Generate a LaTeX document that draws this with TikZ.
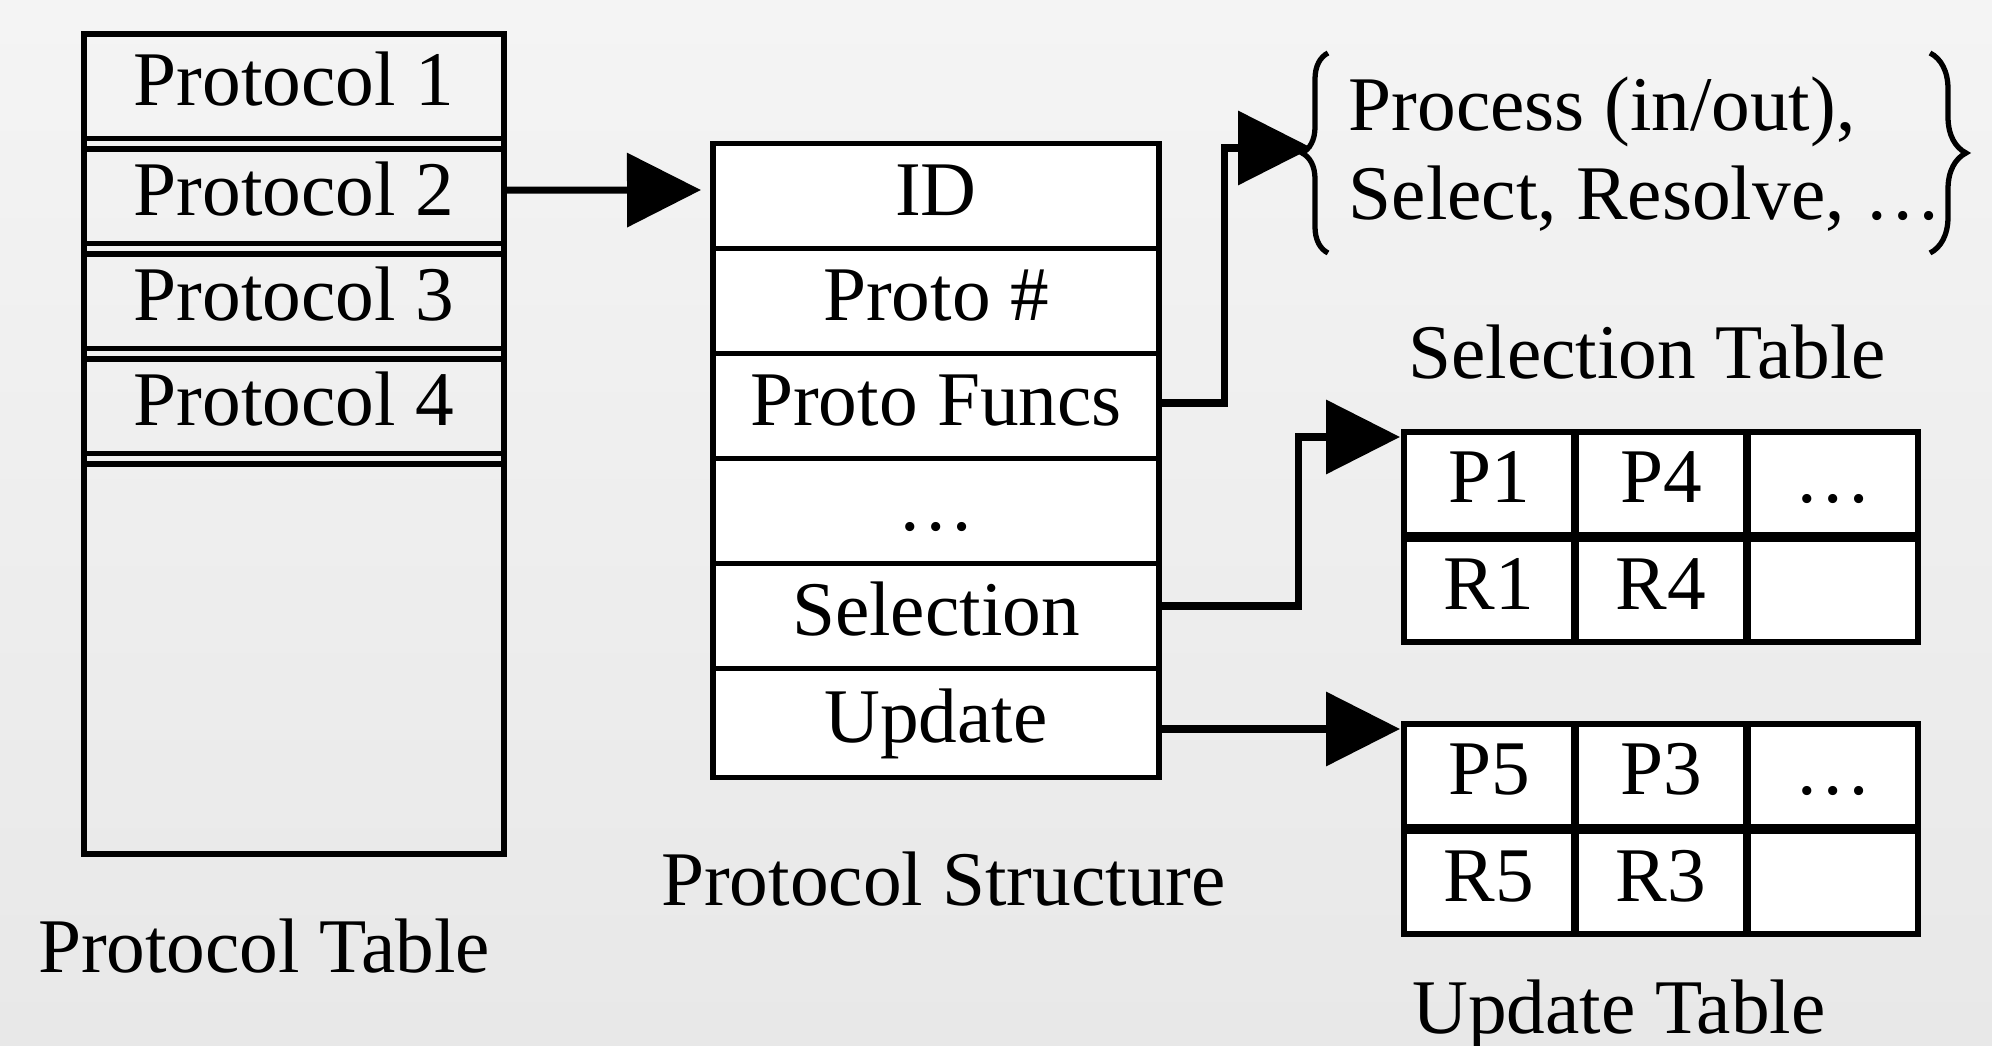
\documentclass[tikz,border=0pt]{standalone}
\usepackage{fontspec}
\setmainfont{Liberation Serif}
\usepackage{tikz}
\usetikzlibrary{arrows.meta, positioning, decorations.pathreplacing}

\definecolor{bgtop}{HTML}{F4F4F4}
\definecolor{bgbot}{HTML}{E8E8E8}

\begin{document}
\begin{tikzpicture}[node distance=0pt,
    font=\fontsize{22}{25.3}\selectfont,
    frame/.style={draw, line width=1.7pt, inner sep=0pt, outer sep=0pt},
    prow/.style={frame, minimum width=4.2cm, minimum height=0.945cm, text height=0.54cm, text depth=0.155cm},
    field/.style={frame, fill=white, minimum width=4.46cm, minimum height=1.05cm, text height=0.54cm, text depth=0.155cm},
    cell/.style={frame, fill=white, minimum width=1.70cm, minimum height=1.03cm, text height=0.54cm, text depth=0.155cm},
    link/.style={line width=2pt, -{Triangle[length=7.4mm, width=7.3mm]}},
    brc/.style={decorate, decoration={brace, amplitude=#1}, line width=1.5pt}]

    \useasboundingbox (0,0) rectangle (19.92,10.45);
    \shade[top color=bgtop, bottom color=bgbot] (0,0) rectangle (19.92,10.45);

    % protocol table
    \node[frame, minimum width=4.2cm, minimum height=8.2cm] (ptable) at (2.94,6.01) {};
    \node[prow, minimum height=1.045cm, anchor=north] (prow1) at (ptable.north) {Protocol 1};
    \node[prow, below=0.105cm of prow1] (prow2) {Protocol 2};
    \node[prow, below=0.105cm of prow2] (prow3) {Protocol 3};
    \node[prow, below=0.105cm of prow3] (prow4) {Protocol 4};
    \draw[line width=1.7pt] ([yshift=-1.05mm]prow4.south west) -- ([yshift=-1.05mm]prow4.south east);
    \node[anchor=base] (ptlabel) at (2.64,0.72) {Protocol Table};

    % protocol structure
    \node[field, anchor=north] (sid) at (9.36,9.015) {ID};
    \node[field, below=of sid] (snum) {Proto \#};
    \node[field, below=of snum] (sfun) {Proto Funcs};
    \node[field, below=of sfun] (sdots) {…};
    \node[field, below=of sdots] (ssel) {Selection};
    \node[field, below=of ssel, minimum height=1.09cm] (supd) {Update};
    \node[anchor=base] (pslabel) at (9.435,1.40) {Protocol Structure};

    % proto funcs
    \node[anchor=north west, inner sep=0pt, align=left] (funcs) at (13.48,9.69) {Process (in/out),\\Select, Resolve, …};
    \draw[brc=0.26cm] (13.28,7.92) -- (13.28,9.92);
    \draw[brc=0.36cm] (19.30,9.92) -- (19.30,7.92);
    \coordinate (ftip) at (13.12,8.97);

    % selection table
    \node[anchor=base] (stlabel) at (16.47,6.66) {Selection Table};
    \node[cell, anchor=north west] (sp1) at (14.04,6.13) {P1};
    \node[cell, right=0.02cm of sp1] (sp4) {P4};
    \node[cell, right=0.02cm of sp4] (sdt) {…};
    \node[cell, below=0.04cm of sp1] (sr1) {R1};
    \node[cell, right=0.02cm of sr1] (sr4) {R4};
    \node[cell, right=0.02cm of sr4] (sbl) {};

    % update table
    \node[cell, anchor=north west] (up5) at (14.04,3.21) {P5};
    \node[cell, right=0.02cm of up5] (up3) {P3};
    \node[cell, right=0.02cm of up3] (udt) {…};
    \node[cell, below=0.04cm of up5] (ur5) {R5};
    \node[cell, right=0.02cm of ur5] (ur3) {R3};
    \node[cell, right=0.02cm of ur3] (ubl) {};
    \node[anchor=base] (utlabel) at (16.19,0.12) {Update Table};

    % connectors
    \draw[link, shorten >=1.2mm] ([yshift=0.6mm]prow2.east) -- ([yshift=0.6mm]sid.west);
    \draw[link] ([yshift=0.3mm]sfun.east) -- ++(0.65,0) |- (ftip);
    \coordinate (sout) at ([yshift=1mm]ssel.east);
    \draw[link, shorten >=0.4mm] (sout) -- ++(1.39,0) |- ([yshift=-0.5mm]sp1.north west);
    \coordinate (uout) at ([yshift=-0.6mm]supd.east);
    \draw[link, shorten >=0.4mm] (uout) -- (uout -| up5.west);
\end{tikzpicture}
\end{document}
